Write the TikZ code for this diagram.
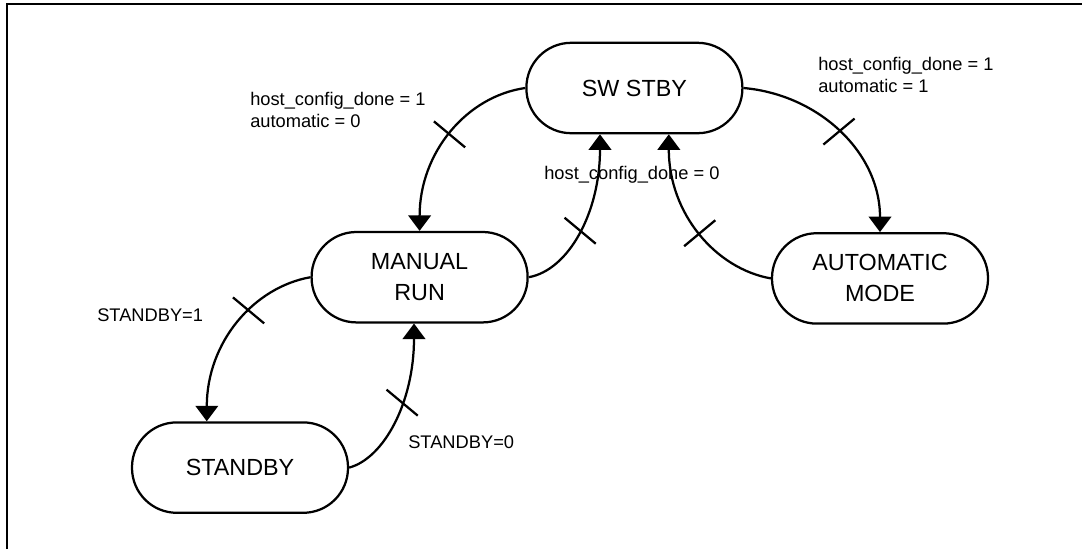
\documentclass[tikz,border=0pt]{standalone}
\usepackage{fontspec}
\setmainfont{Liberation Sans}
\usetikzlibrary{arrows.meta,decorations.markings}

\tikzset{
  state/.style={draw, line width=1.6pt, rectangle, rounded corners=1.12cm, minimum width=5.4cm, minimum height=2.26cm, align=center, font=\fontsize{16.6}{22}\selectfont},
  cond/.style={anchor=west, inner sep=0pt, align=left, font=\fontsize{13}{15.9}\selectfont},
  trans/.style={line width=1.6pt, -{Triangle[width=16pt,length=11pt]}},
  tickdown/.style={postaction={decorate, decoration={markings, mark=at position #1 with {\pgftransformresetnontranslations \draw[line width=1.6pt,-] (-0.39,0.325) -- (0.39,-0.325);}}}},
  tickup/.style={postaction={decorate, decoration={markings, mark=at position #1 with {\pgftransformresetnontranslations \draw[line width=1.6pt,-] (-0.39,-0.325) -- (0.39,0.325);}}}}
}

\begin{document}
\begin{tikzpicture}

\useasboundingbox (0,0) rectangle (27.05,-13.725);
\draw[line width=1.4pt] (0.175,-13.725) -- (0.175,-0.1) -- (27.05,-0.1);

\node[state] (swstby) at (15.86,-2.2) {SW STBY};
\node[state] (manual) at (10.49,-6.93) {MANUAL\\RUN};
\node[state] (automode) at (22.0,-6.96) {AUTOMATIC\\MODE};
\node[state] (standby) at (6.0,-11.69) {STANDBY};

\node[cond] (c1) at (6.25,-2.75) {host\_config\_done = 1\\automatic = 0};
\node[cond] (c2) at (13.6,-4.375) {host\_config\_done = 0};
\node[cond] (c3) at (20.45,-1.875) {host\_config\_done = 1\\automatic = 1};
\node[cond] (c4) at (2.425,-7.875) {STANDBY=1};
\node[cond] (c5) at (10.2,-11.05) {STANDBY=0};

\draw[trans, tickdown=0.47] (swstby.west) to[out=188,in=90,out looseness=0.85,in looseness=1.13] (manual.north);
\draw[trans, tickdown=0.42] (manual.east) to[out=10,in=-90,out looseness=0.64,in looseness=1.26] ([xshift=-0.86cm]swstby.south);
\draw[trans, tickup=0.45] (automode.west) to[out=170,in=-90,out looseness=0.81,in looseness=1.15] ([xshift=0.86cm]swstby.south);
\draw[trans, tickup=0.49] (swstby.east) to[out=-5,in=90,out looseness=0.97,in looseness=1.03] (automode.north);
\draw[trans, tickdown=0.37] (manual.west) to[out=190,in=90,out looseness=0.83,in looseness=1.14] ([xshift=-0.83cm]standby.north);
\draw[trans, tickdown=0.52] (standby.east) to[out=15,in=-90,out looseness=0.58,in looseness=1.28] ([xshift=-0.14cm]manual.south);

\end{tikzpicture}
\end{document}
